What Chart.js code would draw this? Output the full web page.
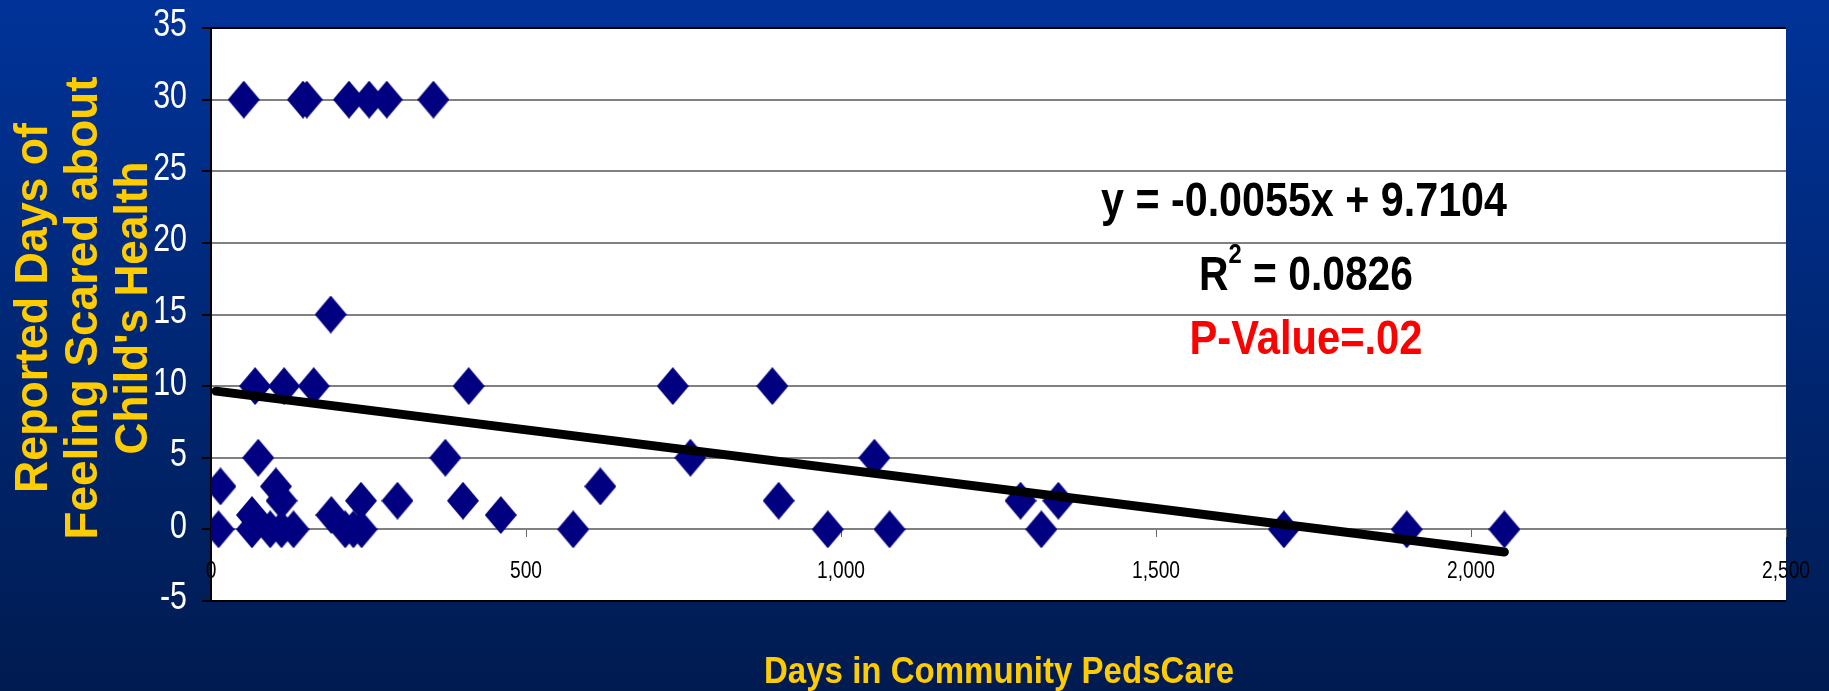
<!DOCTYPE html>
<html>
<head>
<meta charset="utf-8">
<script src="https://cdn.jsdelivr.net/npm/chart.js@4/dist/chart.umd.min.js"></script>
<style>
  html, body { margin: 0; padding: 0; background: #002a80; }
  #wrap { width: 1829px; height: 691px; }
</style>
</head>
<body>
<div id="wrap"><canvas id="mychart" width="1829" height="691"></canvas></div>
<script>
// days in community PedsCare (x) and reported days scared (y)
var daysInCare = [52, 146, 152, 219, 251, 279, 353,
                  190,
                  70, 116, 163, 409, 733, 891,
                  75, 372, 761, 1053,
                  15, 103, 618,
                  112, 238, 296, 400, 901, 1285, 1345,
                  65, 191, 460,
                  12, 65, 94, 112, 131, 213, 226, 239, 575, 979, 1077, 1318, 1703, 1898, 2053];
var daysScared = [30, 30, 30, 30, 30, 30, 30,
                  15,
                  10, 10, 10, 10, 10, 10,
                  5, 5, 5, 5,
                  3, 3, 3,
                  2, 2, 2, 2, 2, 2, 2,
                  1, 1, 1,
                  0, 0, 0, 0, 0, 0, 0, 0, 0, 0, 0, 0, 0, 0, 0];

// linear trend line ends
var trendX = [8, 2053];
var trendY = [9.65, -1.58];

var xTickValues = [0, 500, 1000, 1500, 2000, 2500];
var yTickValues = [-5, 0, 5, 10, 15, 20, 25, 30, 35];

var yTitle = ["Reported Days of", "Feeling Scared about", "Child's Health"];
var xTitle = "Days in Community PedsCare";
var eqText = "y = -0.0055x + 9.7104";
var r2Text = "0.0826";
var pText = "P-Value=.02";

var fam = "'Liberation Sans', Arial, sans-serif";
var squeeze = 0.8; // no narrow font here, so squash the tick text

// diamond marker, a little taller than wide
var diamond = document.createElement('canvas');
diamond.width = 32;
diamond.height = 38;
(function () {
    var d = diamond.getContext('2d');
    d.fillStyle = '#000080';
    d.beginPath();
    d.moveTo(16, 0);
    d.lineTo(32, 19);
    d.lineTo(16, 38);
    d.lineTo(0, 19);
    d.closePath();
    d.fill();
})();

function fitText(ctx, text, cx, y, w, font, color) {
    ctx.save();
    ctx.font = font;
    var m = ctx.measureText(text).width;
    ctx.translate(cx, y);
    ctx.scale(w / m, 1);
    ctx.fillStyle = color;
    ctx.textAlign = 'center';
    ctx.textBaseline = 'alphabetic';
    ctx.fillText(text, 0, 0);
    ctx.restore();
}

function squashText(ctx, text, x, y, align, baseline, font, color) {
    ctx.save();
    ctx.translate(x, y);
    ctx.scale(squeeze, 1);
    ctx.font = font;
    ctx.fillStyle = color;
    ctx.textAlign = align;
    ctx.textBaseline = baseline;
    ctx.fillText(text, 0, 0);
    ctx.restore();
}

const backdrop = {
    id: 'backdrop',
    beforeDraw: function (chart) {
        var ctx = chart.ctx, a = chart.chartArea;
        var g = ctx.createLinearGradient(0, 0, 0, chart.height);
        g.addColorStop(0, '#003399');
        g.addColorStop(1, '#001b50');
        ctx.save();
        ctx.fillStyle = g;
        ctx.fillRect(0, 0, chart.width, chart.height);
        ctx.fillStyle = '#ffffff';
        ctx.fillRect(a.left, a.top, a.right - a.left, a.bottom - a.top);
        ctx.restore();
    },
    afterDraw: function (chart) {
        var ctx = chart.ctx;
        var xs = chart.scales.x, ys = chart.scales.y;

        // tick labels, placed from the scales
        ys.ticks.forEach(function (t) {
            squashText(ctx, String(t.value), 187, ys.getPixelForValue(t.value) - 2,
                'right', 'middle', '38px ' + fam, '#ffffff');
        });
        xs.ticks.forEach(function (t) {
            squashText(ctx, Number(t.value).toLocaleString('en-US'), xs.getPixelForValue(t.value), 578,
                'center', 'alphabetic', '24px ' + fam, '#000000');
        });

        // y title, three rotated lines
        var baseX = [47, 97, 147];
        var lens = [370, 463, 293];
        for (var i = 0; i < yTitle.length; i++) {
            ctx.save();
            ctx.translate(baseX[i], 308);
            ctx.rotate(-Math.PI / 2);
            fitText(ctx, yTitle[i], 0, 0, lens[i], 'bold 47px ' + fam, '#ffcc00');
            ctx.restore();
        }
        // x title
        fitText(ctx, xTitle, 999, 683, 470, 'bold 37px ' + fam, '#ffcc00');

        // regression text
        fitText(ctx, eqText, 1304, 216, 406, 'bold 48px ' + fam, '#000000');
        fitText(ctx, pText, 1306, 354, 233, 'bold 48px ' + fam, '#ff0000');

        // R squared with superscript
        ctx.save();
        var big = 'bold 48px ' + fam, small = 'bold 28px ' + fam;
        ctx.font = big;
        var wR = ctx.measureText('R').width;
        var wRest = ctx.measureText(' = ' + r2Text).width;
        ctx.font = small;
        var w2 = ctx.measureText('2').width;
        var s = 214 / (wR + w2 + wRest);
        ctx.translate(1199, 290);
        ctx.scale(s, 1);
        ctx.fillStyle = '#000000';
        ctx.textBaseline = 'alphabetic';
        ctx.textAlign = 'left';
        ctx.font = big;
        ctx.fillText('R', 0, 0);
        ctx.font = small;
        ctx.fillText('2', wR, -27);
        ctx.font = big;
        ctx.fillText(' = ' + r2Text, wR + w2, 0);
        ctx.restore();
    }
};

var ctx = document.getElementById('mychart').getContext('2d');
var myChart = new Chart(ctx, {
    type: 'scatter',
    data: {
        datasets: [{
            label: 'Trend',
            data: trendX.map(function (x, i) { return { x: x, y: trendY[i] }; }),
            showLine: true,
            borderColor: '#000000',
            borderWidth: 9,
            borderCapStyle: 'round',
            pointRadius: 0,
            fill: false
        }, {
            label: 'Days scared',
            data: daysInCare.map(function (x, i) { return { x: x, y: daysScared[i] }; }),
            pointStyle: diamond,
            pointRadius: 16,
            backgroundColor: '#000080',
            borderColor: '#000080'
        }]
    },
    options: {
        responsive: false,
        animation: false,
        layout: { padding: { left: 0, top: 28, right: 43, bottom: 90 } },
        plugins: {
            legend: { display: false },
            tooltip: { enabled: false }
        },
        scales: {
            x: {
                type: 'linear',
                min: 0,
                max: 2500,
                position: { y: 0 },
                afterBuildTicks: function (scale) {
                    scale.ticks = xTickValues.map(function (v) { return { value: v }; });
                },
                ticks: {
                    color: 'rgba(0,0,0,0)',
                    font: { family: fam, size: 8 },
                    padding: 2,
                    maxRotation: 0,
                    autoSkip: false
                },
                grid: {
                    drawOnChartArea: false,
                    drawTicks: true,
                    tickLength: 8,
                    color: '#666666'
                },
                border: { display: false }
            },
            y: {
                min: -5,
                max: 35,
                afterBuildTicks: function (scale) {
                    scale.ticks = yTickValues.map(function (v) { return { value: v }; });
                },
                afterFit: function (scale) { scale.width = 211; },
                ticks: {
                    color: 'rgba(0,0,0,0)',
                    font: { family: fam, size: 8 },
                    padding: 15
                },
                grid: {
                    color: function (c) {
                        var v = c.tick && c.tick.value;
                        return (v === 35 || v === -5) ? '#000000' : '#808080';
                    },
                    lineWidth: 2,
                    tickColor: '#000000',
                    tickLength: 9
                },
                border: { display: true, color: '#000000', width: 2 }
            }
        }
    },
    plugins: [backdrop]
});
</script>
</body>
</html>
